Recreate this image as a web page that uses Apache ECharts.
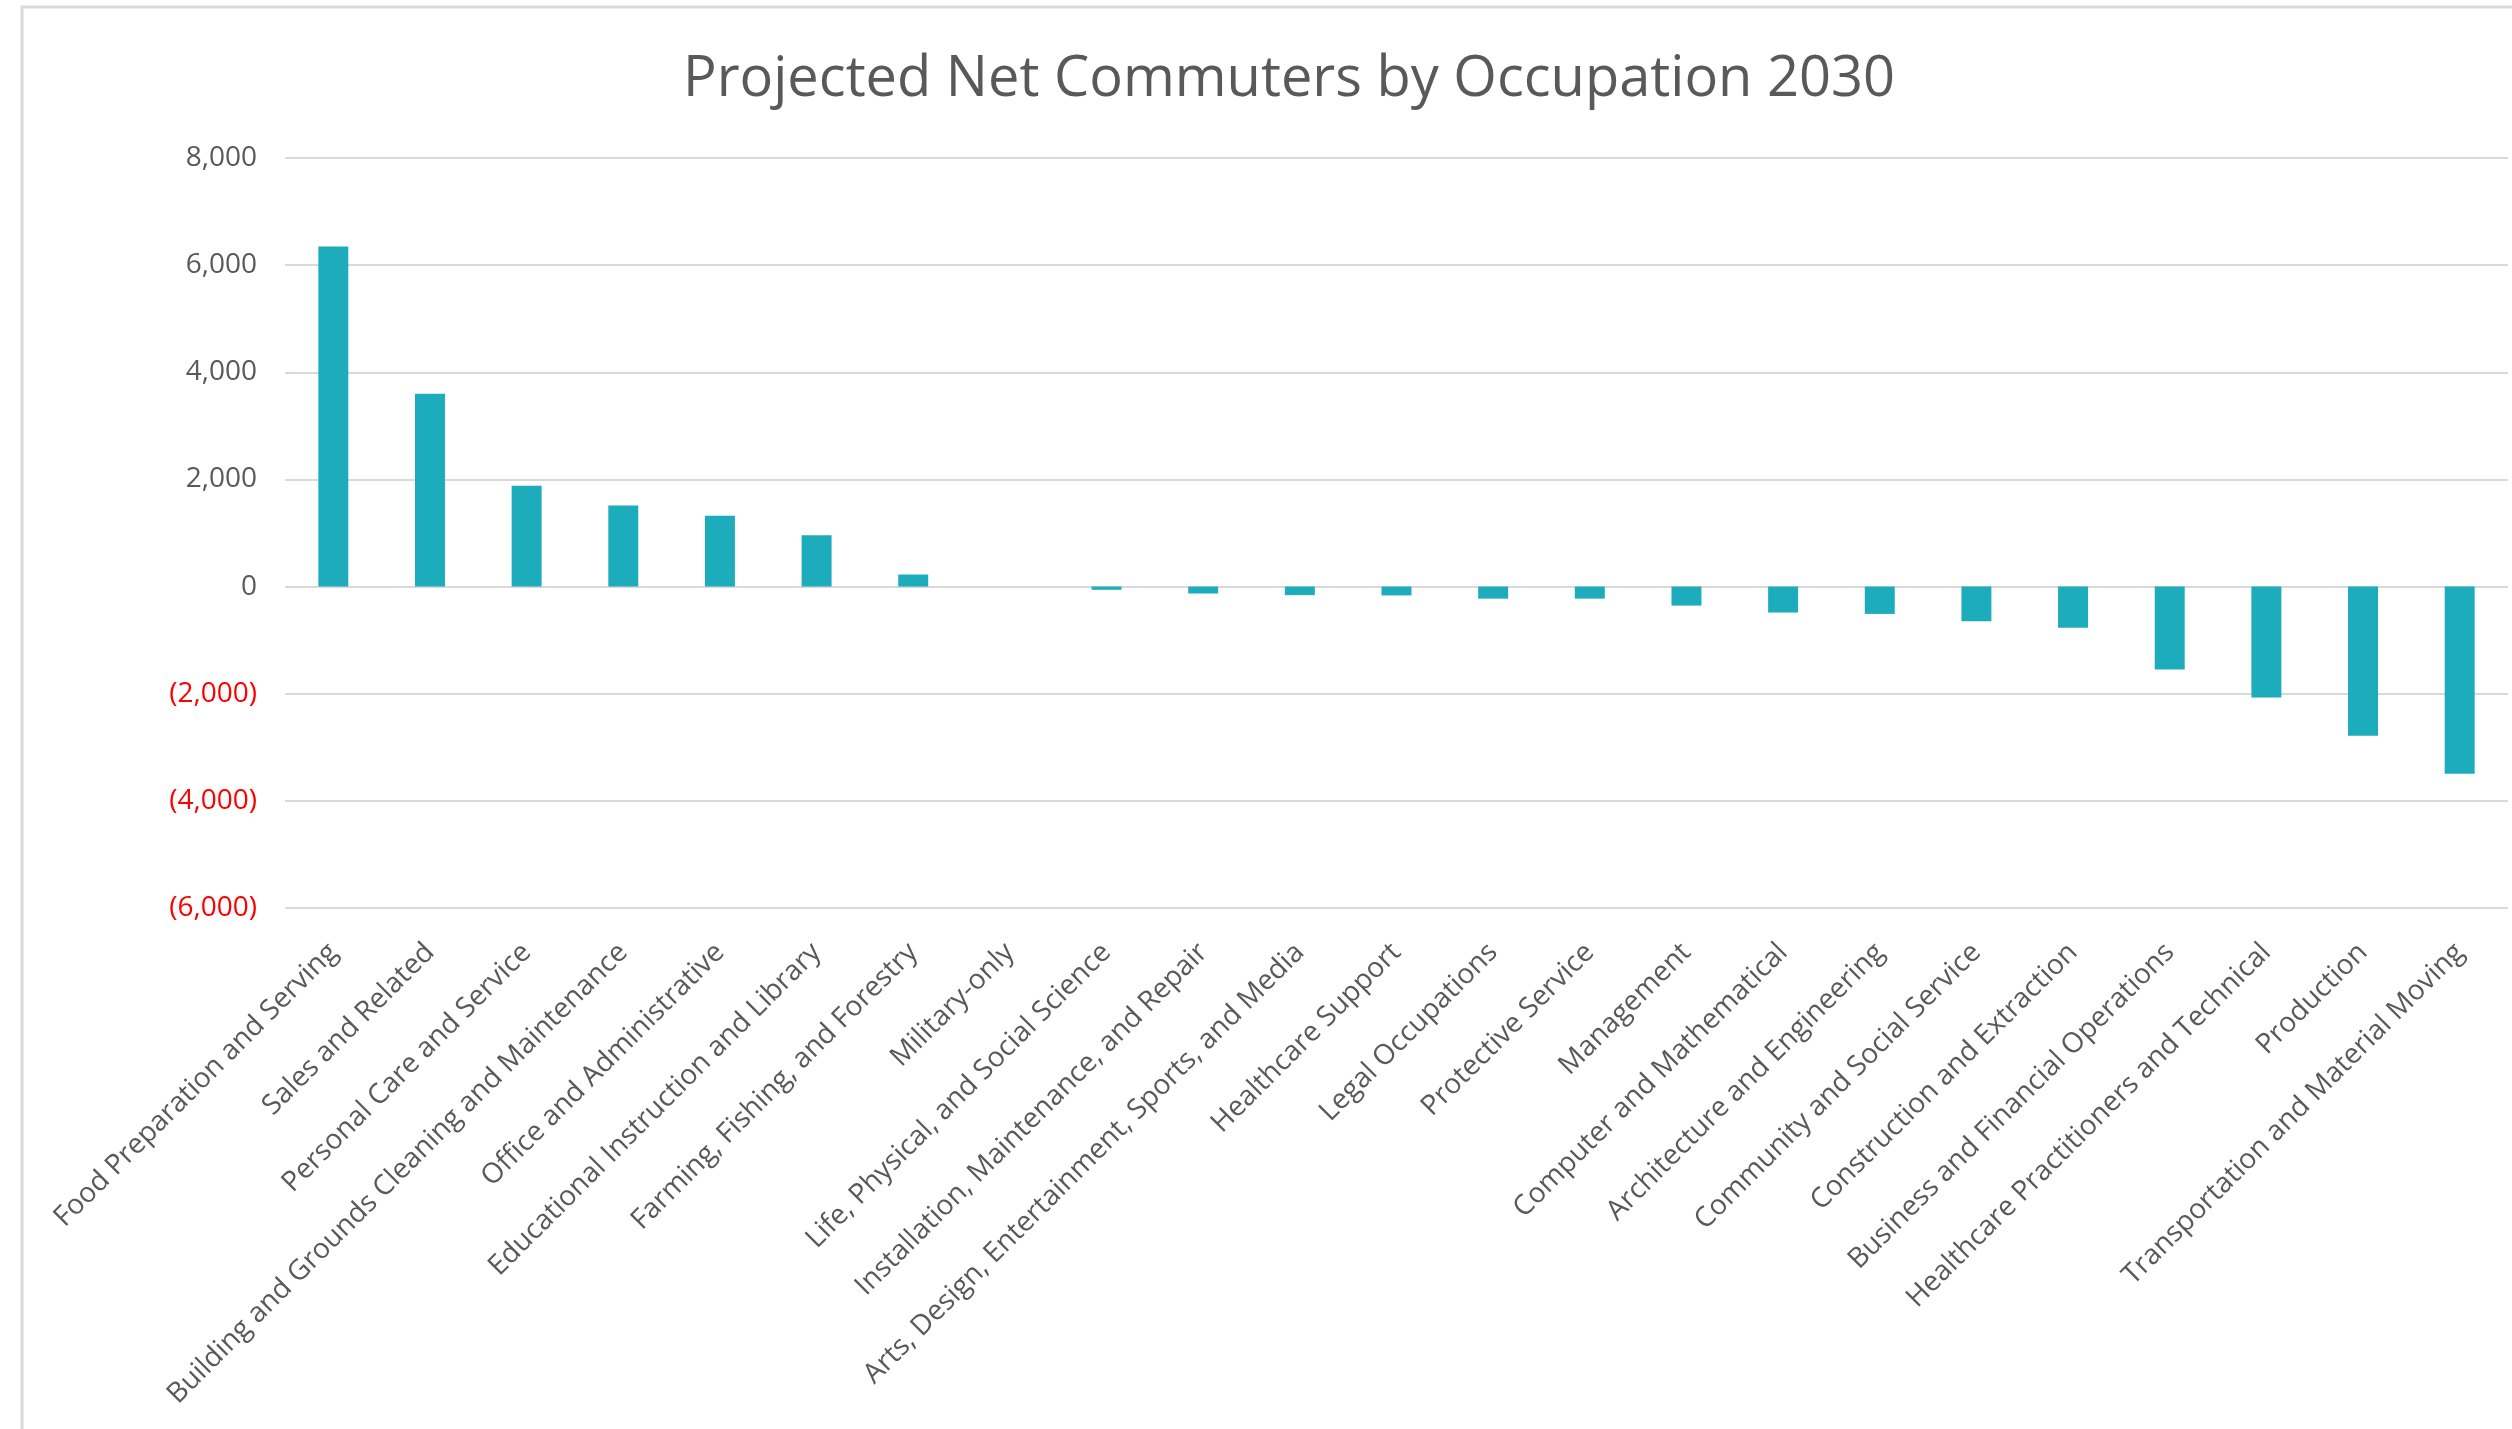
<!DOCTYPE html>
<html>
<head>
<meta charset="utf-8">
<title>Projected Net Commuters by Occupation 2030</title>
<script src="https://cdn.jsdelivr.net/npm/echarts@6/dist/echarts.min.js"></script>
<style>
  html, body { margin: 0; padding: 0; background: #fff; }
  #chart { width: 2512px; height: 1429px; }
</style>
</head>
<body>
<div id="chart"></div>
<script>
// occupations (x axis)
const occupations = [
  'Food Preparation and Serving',
  'Sales and Related',
  'Personal Care and Service',
  'Building and Grounds Cleaning and Maintenance',
  'Office and Administrative',
  'Educational Instruction and Library',
  'Farming, Fishing, and Forestry',
  'Military-only',
  'Life, Physical, and Social Science',
  'Installation, Maintenance, and Repair',
  'Arts, Design, Entertainment, Sports, and Media',
  'Healthcare Support',
  'Legal Occupations',
  'Protective Service',
  'Management',
  'Computer and Mathematical',
  'Architecture and Engineering',
  'Community and Social Service',
  'Construction and Extraction',
  'Business and Financial Operations',
  'Healthcare Practitioners and Technical',
  'Production',
  'Transportation and Material Moving'
];

// net commuters
const netCommuters = [
  6350, 3600, 1880, 1515, 1320, 960, 225, 0,
  -60, -130, -160, -165, -225, -225, -355, -485,
  -510, -645, -770, -1550, -2070, -2785, -3495
];

// y axis range / step
const yMin = -6000;
const yMax = 8000;
const yStep = 2000;

const chart = echarts.init(document.getElementById('chart'));

// 8,000 / 0 / (2,000)
function fmtValue(v) {
  const s = Math.abs(v).toLocaleString('en-US');
  if (v < 0) return '{neg|(' + s + ')}';
  return '{pos|' + s + '}';
}

const option = {
  backgroundColor: '#ffffff',
  animation: false,
  textStyle: { fontFamily: 'Open Sans' },
  // chart frame (left/top edges visible in the picture)
  graphic: [{
    type: 'rect',
    shape: { x: 22, y: 7, width: 2600, height: 1600 },
    style: { fill: 'none', stroke: '#d9d9d9', lineWidth: 3 },
    silent: true
  }],
  title: {
    text: 'Projected Net Commuters by Occupation 2030',
    left: 1284,
    textAlign: 'center',
    top: 47,
    textStyle: {
      fontFamily: 'Open Sans',
      fontSize: 56,
      fontWeight: 'normal',
      color: '#595959'
    }
  },
  grid: {
    left: 285,
    right: 4,
    top: 158,
    bottom: 521,
    containLabel: false
  },
  xAxis: {
    type: 'category',
    data: occupations,
    axisLine: { show: false },
    axisTick: { show: false },
    axisLabel: {
      interval: 0,
      rotate: 45,
      margin: 40,
      fontFamily: 'Open Sans',
      fontSize: 28,
      color: '#595959'
    }
  },
  yAxis: {
    type: 'value',
    min: yMin,
    max: yMax,
    interval: yStep,
    axisLine: { show: false },
    axisTick: { show: false },
    splitLine: { lineStyle: { color: '#d9d9d9', width: 2 } },
    axisLabel: {
      margin: 28,
      formatter: fmtValue,
      rich: {
        pos: { fontFamily: 'Open Sans', fontSize: 28, color: '#595959' },
        neg: { fontFamily: 'Open Sans', fontSize: 28, color: '#ff0000' }
      }
    }
  },
  series: [{
    name: 'Net Commuters',
    type: 'bar',
    barWidth: '31%',
    data: netCommuters,
    itemStyle: { color: '#1cacbb' }
  }]
};

chart.setOption(option);
</script>
</body>
</html>
